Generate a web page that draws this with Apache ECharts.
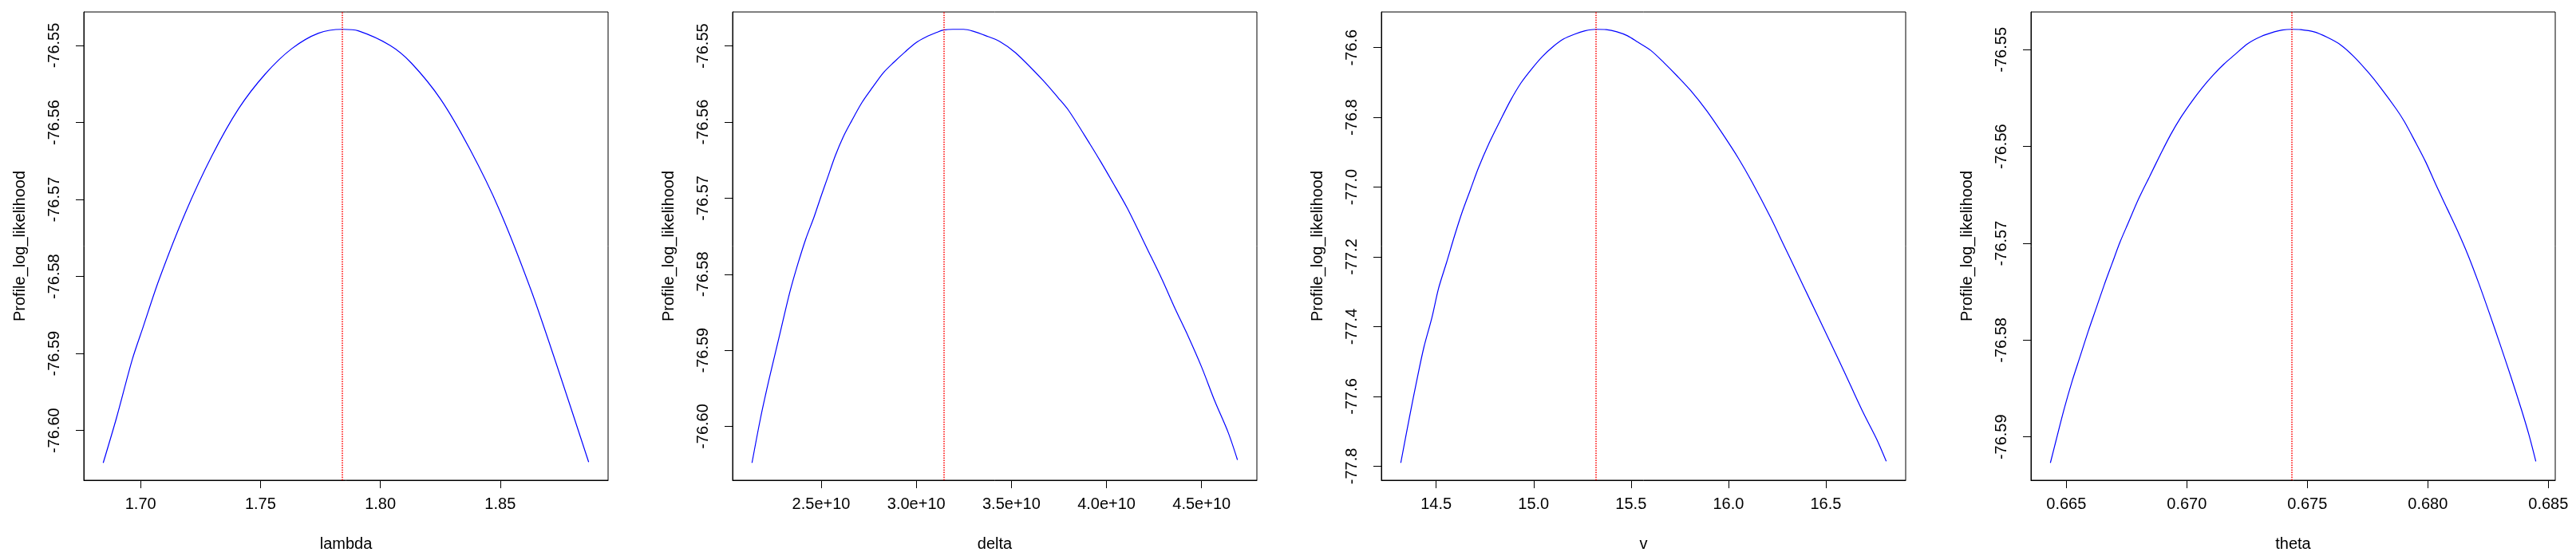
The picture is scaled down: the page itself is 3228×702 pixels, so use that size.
<!DOCTYPE html>
<html>
<head>
<meta charset="utf-8">
<title>Profile log likelihood</title>
<script src="https://cdn.jsdelivr.net/npm/echarts@6/dist/echarts.min.js"></script>
<style>
  html, body { margin: 0; padding: 0; background: #fff; }
  #chart { width: 3228px; height: 702px; }
</style>
</head>
<body>
<div id="chart"></div>
<script>
/*
 * Four profile log-likelihood curves, one per parameter,
 * each with a dotted red line at the maximum.
 */

/* ---- lambda ---- */
let lambdaX = [1.6844, 1.6899, 1.6966, 1.7010, 1.7077, 1.7187, 1.7298, 1.7409, 1.7520, 1.7631, 1.7742,
  1.7842, 1.7908, 1.8041, 1.8130, 1.8252, 1.8374, 1.8496, 1.8629, 1.8740, 1.8869];
let lambdaLL = [-76.6042, -76.5984, -76.5907, -76.5866, -76.5804, -76.5717, -76.5643, -76.5582, -76.5537, -76.5504, -76.5484,
  -76.5479, -76.5481, -76.5500, -76.5523, -76.5570, -76.5635, -76.5713, -76.5818, -76.5919, -76.6041];
let lambdaHat = 1.7842;
let lambdaTicks = [1.70, 1.75, 1.80, 1.85];
let lambdaLLTicks = [-76.60, -76.59, -76.58, -76.57, -76.56, -76.55];

/* ---- delta ---- */
let deltaX = [2.1362e10, 2.1812e10, 2.2233e10, 2.2584e10, 2.2935e10, 2.3357e10, 2.3778e10, 2.4199e10, 2.4621e10, 2.4972e10,
  2.5323e10, 2.5744e10, 2.6166e10, 2.6587e10, 2.7149e10, 2.7711e10, 2.8272e10, 2.8834e10, 2.9396e10, 2.9958e10,
  3.0520e10, 3.1081e10, 3.1433e10, 3.1924e10, 3.2486e10, 3.3048e10, 3.3610e10, 3.4385e10, 3.5223e10, 3.6620e10,
  3.7458e10, 3.8017e10, 3.9134e10, 3.9693e10, 4.0251e10, 4.1089e10, 4.2207e10, 4.2905e10, 4.3603e10, 4.4302e10,
  4.5000e10, 4.5698e10, 4.6397e10, 4.6885e10];
let deltaLL = [-76.6048, -76.5989, -76.5941, -76.5904, -76.5867, -76.5823, -76.5786, -76.5753, -76.5725, -76.5699,
  -76.5674, -76.5644, -76.5619, -76.5599, -76.5574, -76.5554, -76.5535, -76.5521, -76.5508, -76.5496,
  -76.5488, -76.5482, -76.5479, -76.5478, -76.5478, -76.5481, -76.5486, -76.5494, -76.5509, -76.5544,
  -76.5568, -76.5585, -76.5629, -76.5652, -76.5676, -76.5713, -76.5770, -76.5806, -76.5845, -76.5882,
  -76.5922, -76.5967, -76.6008, -76.6044];
let deltaHat = 3.1433e10;
let deltaTicks = [2.5e10, 3.0e10, 3.5e10, 4.0e10, 4.5e10];
let deltaLLTicks = [-76.60, -76.59, -76.58, -76.57, -76.56, -76.55];

/* ---- v ---- */
let vX = [14.3183, 14.3620, 14.4030, 14.4372, 14.4781, 14.5123, 14.5533, 14.5943, 14.6352, 14.6762, 14.7172, 14.7719,
  14.8265, 14.8811, 14.9358, 14.9904, 15.0451, 15.0997, 15.1544, 15.2090, 15.2637, 15.3183, 15.3730, 15.4276,
  15.4822, 15.5350, 15.6011, 15.6694, 15.7377, 15.8060, 15.8880, 15.9699, 16.0519, 16.1202, 16.2158, 16.2842,
  16.3525, 16.4208, 16.4891, 16.5574, 16.6257, 16.6940, 16.7623, 16.8101];
let vLL = [-77.7904, -77.6620, -77.5469, -77.4583, -77.3740, -77.2900, -77.2160, -77.1394, -77.0686, -77.0066, -76.9446, -76.8737,
  -76.8117, -76.7520, -76.7010, -76.6611, -76.6257, -76.5973, -76.5752, -76.5619, -76.5522, -76.5477, -76.5486, -76.5548,
  -76.5663, -76.5845, -76.6080, -76.6434, -76.6820, -76.7231, -76.7807, -76.8471, -76.9180, -76.9844, -77.0863, -77.1660,
  -77.2457, -77.3254, -77.4052, -77.4849, -77.5670, -77.6487, -77.7240, -77.7860];
let vHat = 15.320;
let vTicks = [14.5, 15.0, 15.5, 16.0, 16.5];
let vLLTicks = [-77.8, -77.6, -77.4, -77.2, -77.0, -76.8, -76.6];

/* ---- theta ---- */
let thetaX = [0.664338, 0.664581, 0.664912, 0.665243, 0.665574, 0.665905, 0.666236, 0.666567, 0.666898, 0.667230,
  0.667561, 0.668002, 0.668444, 0.668885, 0.669327, 0.669768, 0.670210, 0.670651, 0.671093, 0.671534,
  0.671976, 0.672528, 0.673079, 0.673631, 0.673962, 0.674349, 0.674724, 0.675276, 0.675827, 0.676378,
  0.676929, 0.677536, 0.678032, 0.678693, 0.679024, 0.679465, 0.679906, 0.680347, 0.680788, 0.681229,
  0.681670, 0.682111, 0.682552, 0.682993, 0.683434, 0.683875, 0.684206, 0.684482];
let thetaLL = [-76.59268, -76.59029, -76.58709, -76.58422, -76.58167, -76.57911, -76.57672, -76.57433, -76.57209, -76.56986,
  -76.56794, -76.56539, -76.56315, -76.56092, -76.55878, -76.55693, -76.55533, -76.55389, -76.55262, -76.55150,
  -76.55054, -76.54937, -76.54863, -76.54815, -76.54796, -76.54789, -76.54792, -76.54815, -76.54872, -76.54949,
  -76.55070, -76.55236, -76.55389, -76.55613, -76.55741, -76.55944, -76.56156, -76.56401, -76.56634, -76.56868,
  -76.57123, -76.57411, -76.57720, -76.58039, -76.58368, -76.58710, -76.58987, -76.59252];
let thetaHat = 0.67435;
let thetaTicks = [0.665, 0.670, 0.675, 0.680, 0.685];
let thetaLLTicks = [-76.59, -76.58, -76.57, -76.56, -76.55];

let FONT = "'Liberation Sans', Arial, sans-serif";
let INK = "#000";
let GRID_LEFT = [105, 918, 1731, 2545];

let panels = [
  { name: "lambda", x: lambdaX, y: lambdaLL, hat: lambdaHat, xTicks: lambdaTicks, yTicks: lambdaLLTicks,
    xFmt: (v) => v.toFixed(2), yFmt: (v) => v.toFixed(2) },
  { name: "delta", x: deltaX, y: deltaLL, hat: deltaHat, xTicks: deltaTicks, yTicks: deltaLLTicks,
    xFmt: (v) => (v / 1e10).toFixed(1) + "e+10", yFmt: (v) => v.toFixed(2) },
  { name: "v", x: vX, y: vLL, hat: vHat, xTicks: vTicks, yTicks: vLLTicks,
    xFmt: (v) => v.toFixed(1), yFmt: (v) => v.toFixed(1) },
  { name: "theta", x: thetaX, y: thetaLL, hat: thetaHat, xTicks: thetaTicks, yTicks: thetaLLTicks,
    xFmt: (v) => v.toFixed(3), yFmt: (v) => v.toFixed(2) },
];

/* R-style axis range: data extent padded by 4% on each side */
function padRange(arr) {
  let lo = Math.min.apply(null, arr);
  let hi = Math.max.apply(null, arr);
  let pad = (hi - lo) * 0.04;
  return [lo - pad, hi + pad];
}

let textStyle = { color: INK, fontSize: 20, fontFamily: FONT };

let grids = [], xAxes = [], yAxes = [], series = [];

panels.forEach(function (p, i) {
  let xr = padRange(p.x);
  let yr = padRange(p.y);

  grids.push({
    left: GRID_LEFT[i], top: 15, width: 657, height: 587,
    show: true, borderColor: INK, borderWidth: 1,
    containLabel: false, outerBoundsMode: "none",
  });

  xAxes.push({
    type: "value", gridIndex: i, min: xr[0], max: xr[1],
    name: p.name, nameLocation: "middle", nameGap: 70,
    nameTextStyle: textStyle,
    axisLine: { show: true, onZero: false, lineStyle: { color: INK, width: 1 } },
    axisTick: { show: true, inside: false, length: 10, customValues: p.xTicks, lineStyle: { color: INK, width: 1 } },
    axisLabel: Object.assign({ customValues: p.xTicks, formatter: p.xFmt, margin: 20 }, textStyle),
    splitLine: { show: false },
  });

  yAxes.push({
    type: "value", gridIndex: i, min: yr[0], max: yr[1],
    name: "Profile_log_likelihood", nameLocation: "middle", nameGap: 70,
    nameTextStyle: textStyle,
    axisLine: { show: true, onZero: false, lineStyle: { color: INK, width: 1 } },
    axisTick: { show: true, inside: false, length: 10, customValues: p.yTicks, lineStyle: { color: INK, width: 1 } },
    axisLabel: Object.assign({ customValues: p.yTicks, formatter: p.yFmt, rotate: 90, margin: 27 }, textStyle),
    splitLine: { show: false },
  });

  series.push({
    type: "line", xAxisIndex: i, yAxisIndex: i,
    data: p.x.map((xv, k) => [xv, p.y[k]]),
    showSymbol: false, smooth: 0.3,
    lineStyle: { color: "#0000ff", width: 1.2 },
    markLine: {
      silent: true, precision: 6, symbol: ["none", "none"], label: { show: false },
      lineStyle: { color: "#ff0000", type: "dotted", width: 1.5 },
      data: [{ xAxis: p.hat }],
    },
  });
});

let chart = echarts.init(document.getElementById("chart"), null, { renderer: "canvas" });
chart.setOption({
  animation: false,
  backgroundColor: "#fff",
  grid: grids,
  xAxis: xAxes,
  yAxis: yAxes,
  series: series,
});
</script>
</body>
</html>
